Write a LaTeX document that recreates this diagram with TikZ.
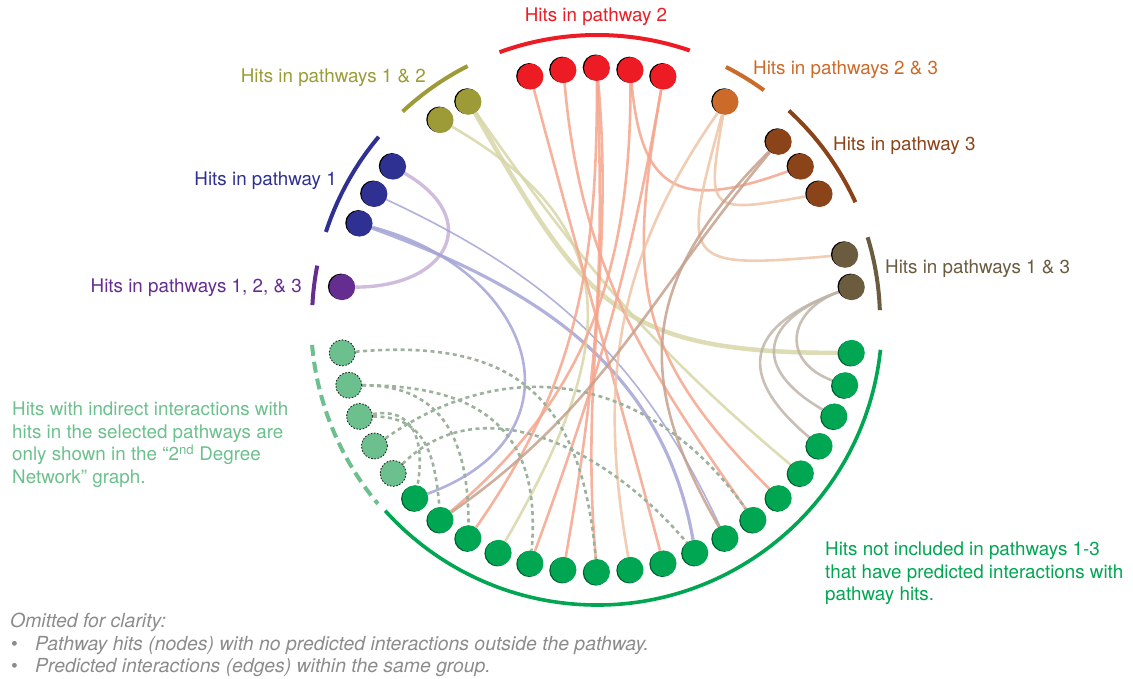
\documentclass[tikz,border=0pt]{standalone}
\usepackage{fontspec}
\setmainfont{TeX Gyre Heros}
\usetikzlibrary{backgrounds,shadows}

\definecolor{pw2}{HTML}{ED1C24}
\definecolor{pw12}{HTML}{9C9B37}
\definecolor{pw1}{HTML}{2E3192}
\definecolor{pw123}{HTML}{662D91}
\definecolor{pw23}{HTML}{CC6B29}
\definecolor{pw3}{HTML}{8B4419}
\definecolor{pw13}{HTML}{6B5B3F}
\definecolor{nohit}{HTML}{00A651}
\definecolor{indirect}{HTML}{6CC08D}
\definecolor{omitgray}{HTML}{8C8C8C}
\definecolor{e2}{HTML}{F6A58C}
\definecolor{e12}{HTML}{D7D6A8}
\definecolor{e1}{HTML}{A3A3D6}
\definecolor{e123}{HTML}{C8B2D8}
\definecolor{e23}{HTML}{EEC4A6}
\definecolor{e3}{HTML}{C6A08C}
\definecolor{e13}{HTML}{BFB4A8}
\definecolor{e2nd}{HTML}{9DB29D}

\tikzset{
  hit/.style={circle, inner sep=0pt, minimum size=26pt, fill=#1,
    drop shadow={shadow xshift=-1.3pt, shadow yshift=.5pt, opacity=1, fill=black}},
  nohitnode/.style={circle, inner sep=0pt, minimum size=26pt, fill=nohit,
    drop shadow={shadow xshift=-1.2pt, shadow yshift=-.6pt, opacity=1, fill=nohit!55!black}},
  indirectnode/.style={circle, inner sep=0pt, minimum size=26pt, fill=indirect,
    draw=black!85, line width=.9pt, dash pattern=on 1.6pt off 1.6pt},
  grp/.style={draw=#1, line width=4pt},
  lbl/.style={font=\fontsize{18.8}{22.8}\selectfont, inner sep=0pt},
  link/.style={draw=#1, line width=2.6pt, draw opacity=.85},
  link2nd/.style={draw=e2nd, line width=2.6pt, dash pattern=on 4pt off 3.5pt}
}

\begin{document}
\begin{tikzpicture}[x=1pt, y=1pt]
  \useasboundingbox (-597,-358) rectangle (536,320);

  % pathway 2
  \node[hit=pw2] (r1) at (105:257 and 252) {};
  \node[hit=pw2] (r2) at (97.5:257 and 252) {};
  \node[hit=pw2] (r3) at (90:257 and 252) {};
  \node[hit=pw2] (r4) at (82.5:257 and 252) {};
  \node[hit=pw2] (r5) at (75:257 and 252) {};
  % pathways 1 & 2
  \node[hit=pw12] (o1) at (127.5:257 and 252) {};
  \node[hit=pw12] (o2) at (120:257 and 252) {};
  % pathway 1
  \node[hit=pw1] (b1) at (142.5:257 and 252) {};
  \node[hit=pw1] (b2) at (150:257 and 252) {};
  \node[hit=pw1] (b3) at (157.5:257 and 252) {};
  \node[hit=pw123] (p1) at (172.5:257 and 252) {};
  % pathways 2 & 3, pathway 3, pathways 1 & 3
  \node[hit=pw23] (t1) at (60:257 and 252) {};
  \node[hit=pw3] (n1) at (45:257 and 252) {};
  \node[hit=pw3] (n2) at (37.5:257 and 252) {};
  \node[hit=pw3] (n3) at (30:257 and 252) {};
  \node[hit=pw13] (g1) at (15:257 and 252) {};
  \node[hit=pw13] (g2) at (7.5:257 and 252) {};
  % hits outside the pathways
  \node[nohitnode] (h1) at (-7.5:257 and 252) {};
  \node[nohitnode] (h2) at (-15:257 and 252) {};
  \node[nohitnode] (h3) at (-22.5:257 and 252) {};
  \node[nohitnode] (h4) at (-30:257 and 252) {};
  \node[nohitnode] (h5) at (-37.5:257 and 252) {};
  \node[nohitnode] (h6) at (-45:257 and 252) {};
  \node[nohitnode] (h7) at (-52.5:257 and 252) {};
  \node[nohitnode] (h8) at (-60:257 and 252) {};
  \node[nohitnode] (h9) at (-67.5:257 and 252) {};
  \node[nohitnode] (h10) at (-75:257 and 252) {};
  \node[nohitnode] (h11) at (-82.5:257 and 252) {};
  \node[nohitnode] (h12) at (-90:257 and 252) {};
  \node[nohitnode] (h13) at (-97.5:257 and 252) {};
  \node[nohitnode] (h14) at (-105:257 and 252) {};
  \node[nohitnode] (h15) at (-112.5:257 and 252) {};
  \node[nohitnode] (h16) at (-120:257 and 252) {};
  \node[nohitnode] (h17) at (-127.5:257 and 252) {};
  \node[nohitnode] (h18) at (-135:257 and 252) {};
  % indirect hits
  \node[indirectnode] (l1) at (187.5:257 and 252) {};
  \node[indirectnode] (l2) at (195:257 and 252) {};
  \node[indirectnode] (l3) at (202.5:257 and 252) {};
  \node[indirectnode] (l4) at (210:257 and 252) {};
  \node[indirectnode] (l5) at (217.5:257 and 252) {};

  \begin{scope}[on background layer]
    \draw[link=e123, line width=3.4pt] (b1) to[out=-30, in=0, looseness=1.9] (p1);
    \draw[link=e1] (b3) to[out=-15, in=20, looseness=1.6] (h18);
    \draw[link=e1, line width=3.2pt] (b3) to[out=-20, in=100] (h9);
    \draw[link=e1, line width=1.6pt] (b2) to[out=-25, in=115] (h8);
    \draw[link=e12, line width=4.5pt] (o2) to[out=-60, in=180, looseness=1.3] (h1);
    \draw[link=e12] (o2) to[out=-55, in=140] (h5);
    \draw[link=e12] (o1) to[out=-30, in=60, looseness=1.3] (h15);
    \draw[link=e2] (r1) to[out=-75, in=105] (h10);
    \draw[link=e2] (r2) to[out=-85, in=125] (h7);
    \draw[link=e2] (r3) to[out=-90, in=55] (h16);
    \draw[link=e2] (r3) to[out=-88, in=80] (h13);
    \draw[link=e2] (r3) to[out=-85, in=95] (h12);
    \draw[link=e2] (r4) to[out=-90, in=40] (h17);
    \draw[link=e2] (r4) to[out=-85, in=200, looseness=1.6] (n2);
    \draw[link=e2] (r5) to[out=-100, in=70] (h14);
    \draw[link=e2] (r5) to[out=-100, in=135, looseness=1.2] (h6);
    \draw[link=e23] (t1) to[out=-100, in=190, looseness=2.2] (n3);
    \draw[link=e23] (t1) to[out=-105, in=185, looseness=2.2] (g1);
    \draw[link=e23] (t1) to[out=-125, in=100] (h11);
    \draw[link=e3] (n1) to[out=-130, in=35] (h17);
    \draw[link=e3] (n1) to[out=-135, in=120, looseness=1.2] (h8);
    \draw[link=e13] (g2) to[out=200, in=160, looseness=1.6] (h2);
    \draw[link=e13] (g2) to[out=200, in=150, looseness=1.8] (h3);
    \draw[link=e13] (g2) to[out=200, in=140, looseness=1.7] (h4);
    \draw[link2nd] (l1) to[out=5, in=95, looseness=1.3] (h12);
    \draw[link2nd] (l2) to[out=0, in=85, looseness=1.3] (h14);
    \draw[link2nd] (l2) to[out=0, in=90, looseness=1.2] (h16);
    \draw[link2nd] (l3) to[out=0, in=95, looseness=1.2] (h17);
    \draw[link2nd] (l3) to[out=10, in=80, looseness=1.3] (h18);
    \draw[link2nd] (l4) to[out=35, in=125, looseness=1.1] (h7);
    \draw[link2nd] (l5) to[out=45, in=130] (h9);
  \end{scope}

  % group arcs
  \draw[grp=pw2] (110:285) arc[start angle=110, end angle=71, radius=285];
  \draw[grp=pw12] (133:285) arc[start angle=133, end angle=117, radius=285];
  \draw[grp=pw1] (162:285) arc[start angle=162, end angle=140, radius=285];
  \draw[grp=pw123] (177:285) arc[start angle=177, end angle=169, radius=285];
  \draw[grp=pw23] (63:284) arc[start angle=63, end angle=54, radius=284];
  \draw[grp=pw3] (47.5:284) arc[start angle=47.5, end angle=24.5, radius=284];
  \draw[grp=pw13] (17:283) arc[start angle=17, end angle=2, radius=283];
  \draw[grp=nohit, line width=3.6pt] (-6:285) arc[start angle=-6, end angle=-138, radius=285];
  \draw[grp=indirect, dash pattern=on 11pt off 6pt] (185:286) arc[start angle=185, end angle=220, radius=286];

  % labels
  \node[lbl, text=pw2, anchor=base] (lab2) at (-1,298) {Hits in pathway 2};
  \node[lbl, text=pw12, anchor=base east] (lab12) at (-171,237) {Hits in pathways 1 \& 2};
  \node[lbl, text=pw1, anchor=base east] (lab1) at (-260,135) {Hits in pathway 1};
  \node[lbl, text=pw123, anchor=base east] (lab123) at (-295,28) {Hits in pathways 1, 2, \& 3};
  \node[lbl, text=pw23, anchor=base west] (lab23) at (156,245) {Hits in pathways 2 \& 3};
  \node[lbl, text=pw3, anchor=base west] (lab3) at (236,169) {Hits in pathway 3};
  \node[lbl, text=pw13, anchor=base west] (lab13) at (288,47) {Hits in pathways 1 \& 3};

  \node[lbl, text=indirect, anchor=north west, align=left] (labind) at (-585,-81.4)
    {Hits with indirect interactions with\\hits in the selected pathways are\\only shown in the “2\textsuperscript{nd} Degree\\Network” graph.};
  \node[lbl, text=nohit, anchor=north west, align=left] (labno) at (228,-221.4)
    {Hits not included in pathways 1-3\\that have predicted interactions with\\pathway hits.};
  \node[lbl, text=omitgray, anchor=north west, align=left, font=\fontsize{19.4}{22.5}\selectfont\itshape] (labomit) at (-587,-293)
    {Omitted for clarity:\\
     \hspace*{1pt}\makebox[24pt][l]{\upshape\textbullet}Pathway hits (nodes) with no predicted interactions outside the pathway.\\
     \hspace*{1pt}\makebox[24pt][l]{\upshape\textbullet}Predicted interactions (edges) within the same group.};
\end{tikzpicture}
\end{document}
